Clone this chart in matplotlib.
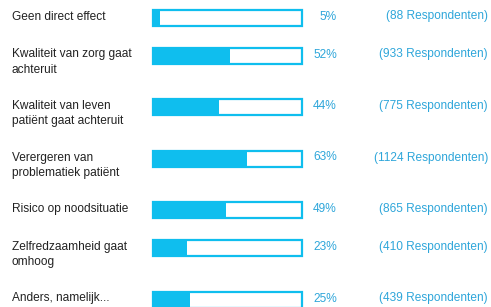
import matplotlib
matplotlib.use("Agg")
import matplotlib.pyplot as plt

labels = [
    "Geen direct effect",
    "Kwaliteit van zorg gaat\nachteruit",
    "Kwaliteit van leven\npatiënt gaat achteruit",
    "Verergeren van\nproblematiek patiënt",
    "Risico op noodsituatie",
    "Zelfredzaamheid gaat\nomhoog",
    "Anders, namelijk...",
]
percentages = [5, 52, 44, 63, 49, 23, 25]
respondents = [88, 933, 775, 1124, 865, 410, 439]

BAR_COLOR = "#0fbeee"
TEXT_BLUE = "#2ea6da"

plt.rcParams['font.family'] = ['Liberation Sans', 'DejaVu Sans']

W, H = 491, 307
fig = plt.figure(figsize=(W / 100, H / 100), dpi=100)
ax = fig.add_axes([0, 0, 1, 1])
ax.set_xlim(0, W)
ax.set_ylim(H, 0)
ax.set_axis_off()

# layout in pixels: rows grow with the number of label lines
bar_left, bar_width, bar_h = 153, 149, 16
ys = []
y = 17.5
for lab in labels:
    ys.append(y)
    y += 38 if lab.count("\n") == 0 else 51.5

fill = [p / 100 * bar_width for p in percentages]
ax.barh(ys, fill, left=bar_left, height=bar_h, color=BAR_COLOR, linewidth=0)
ax.barh(ys, [bar_width] * len(ys), left=bar_left, height=bar_h, fill=False,
        edgecolor=BAR_COLOR, linewidth=1.6)

for yy, lab, p, n in zip(ys, labels, percentages, respondents):
    ax.text(12, yy - 7, lab, ha="left", va="top", fontsize=8.6,
            color="#222222", linespacing=1.35)
    ax.text(337, yy - 1, f"{p}%", ha="right", va="center", fontsize=8.6,
            color=TEXT_BLUE)
    ax.text(488, yy - 1, f"({n} Respondenten)", ha="right", va="center",
            fontsize=8.6, color=TEXT_BLUE)

fig.savefig("out.png", dpi=100)
